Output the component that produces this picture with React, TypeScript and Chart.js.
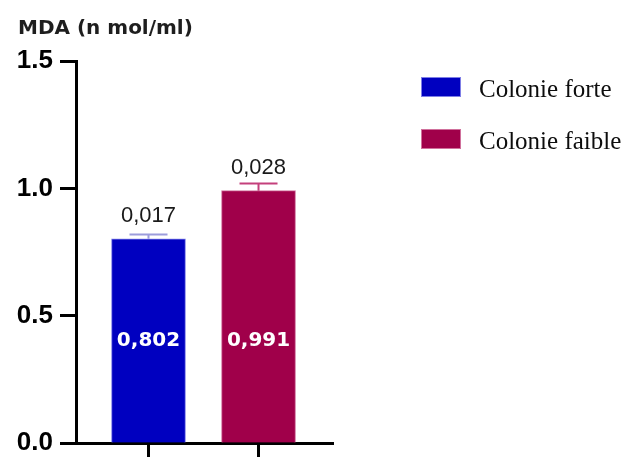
import React, { useEffect, useRef } from "react";
import { Chart, registerables } from "chart.js";

Chart.register(...registerables);

const categories = ["Colonie forte", "Colonie faible"];
const means = [0.802, 0.991];
const errors = [0.017, 0.028];
const meanLabels = ["0,802", "0,991"];
const errorLabels = ["0,017", "0,028"];
const barColors = ["#0000C0", "#A0004A"];
const barBorders = ["#7f7fe6", "#d0709c"];
const errorColors = ["#9c9cdc", "#c4407c"];
const yTicks = [0, 0.5, 1.0, 1.5];
const titleText = "MDA (n mol/ml)";
const insideLabelValue = 0.38;

const overlay = {
  id: "overlay",
  afterDatasetsDraw(chart: any) {
    const ctx = chart.ctx;
    const meta = chart.getDatasetMeta(0);
    const ys = chart.scales.y;
    meta.data.forEach((bar: any, i: number) => {
      const x = bar.x;
      const top = ys.getPixelForValue(means[i] + errors[i]);
      ctx.save();
      ctx.strokeStyle = errorColors[i];
      ctx.lineWidth = 2;
      ctx.beginPath();
      ctx.moveTo(x, bar.y);
      ctx.lineTo(x, top);
      ctx.moveTo(x - 19, top);
      ctx.lineTo(x + 19, top);
      ctx.stroke();
      ctx.fillStyle = "#1a1a1a";
      ctx.font = '22px "Liberation Sans", Arial, sans-serif';
      ctx.textAlign = "center";
      ctx.textBaseline = "alphabetic";
      ctx.fillText(errorLabels[i], x, bar.y - 17);
      ctx.fillStyle = "#ffffff";
      ctx.font = 'bold 20px "DejaVu Sans", sans-serif';
      ctx.fillText(meanLabels[i], x, ys.getPixelForValue(insideLabelValue));
      ctx.restore();
    });
  },
  afterDraw(chart: any) {
    const ctx = chart.ctx;
    ctx.save();
    ctx.fillStyle = "#1e1e1e";
    ctx.font = 'bold 20px "DejaVu Sans", sans-serif';
    ctx.textAlign = "left";
    ctx.textBaseline = "alphabetic";
    ctx.fillText(titleText, 18, 34);
    categories.forEach((c, i) => {
      const top = 77 + i * 52;
      ctx.fillStyle = barColors[i];
      ctx.fillRect(421, top, 40, 20);
      ctx.strokeStyle = barBorders[i];
      ctx.lineWidth = 1;
      ctx.strokeRect(421.5, top + 0.5, 39, 19);
      ctx.fillStyle = "#0d0d0d";
      ctx.font = '25px "Liberation Serif", "Times New Roman", serif';
      ctx.fillText(c, 479, top + 20);
    });
    ctx.restore();
  },
};

export default function App() {
  const ref = useRef<HTMLCanvasElement | null>(null);
  useEffect(() => {
    if (!ref.current) return;
    const chart = new Chart(ref.current, {
      type: "bar",
      data: {
        datasets: [
          {
            label: "MDA",
            data: means.map((v, i) => ({ x: i + 1, y: v })),
            backgroundColor: barColors,
            borderColor: barBorders,
            borderWidth: 1,
            barThickness: 74,
          } as any,
        ],
      },
      options: {
        animation: false,
        responsive: true,
        maintainAspectRatio: false,
        layout: { padding: { left: 0, right: 293, top: 61, bottom: 0 } },
        plugins: { legend: { display: false }, title: { display: false }, tooltip: { enabled: false } },
        scales: {
          x: {
            type: "linear",
            offset: false,
            min: 0.341,
            max: 2.677,
            afterBuildTicks: (s: any) => {
              s.ticks = categories.map((_, i) => ({ value: i + 1 }));
            },
            afterFit: (s: any) => {
              s.height = 14;
              s.paddingLeft = 0;
              s.paddingRight = 0;
            },
            ticks: { display: false },
            grid: { offset: false, drawOnChartArea: false, tickLength: 14, tickWidth: 3, tickColor: "#000" },
            border: { color: "#000", width: 3 },
          },
          y: {
            min: 0,
            max: 1.5,
            afterBuildTicks: (s: any) => {
              s.ticks = yTicks.map((v) => ({ value: v }));
            },
            afterFit: (s: any) => {
              s.width = 76;
              s.paddingTop = 0;
              s.paddingBottom = 0;
            },
            ticks: {
              color: "#000",
              padding: 7,
              font: { family: '"Liberation Sans", Arial, sans-serif', size: 26, weight: "bold" },
              callback: (v: any) => Number(v).toFixed(1),
            },
            grid: { drawOnChartArea: false, tickLength: 16, tickWidth: 3, tickColor: "#000" },
            border: { color: "#000", width: 3 },
          },
        },
      } as any,
      plugins: [overlay],
    });
    return () => chart.destroy();
  }, []);
  return (
    <div style={{ position: "fixed", left: 0, top: 0, width: 626, height: 457, background: "#fff" }}>
      <canvas ref={ref} />
    </div>
  );
}
